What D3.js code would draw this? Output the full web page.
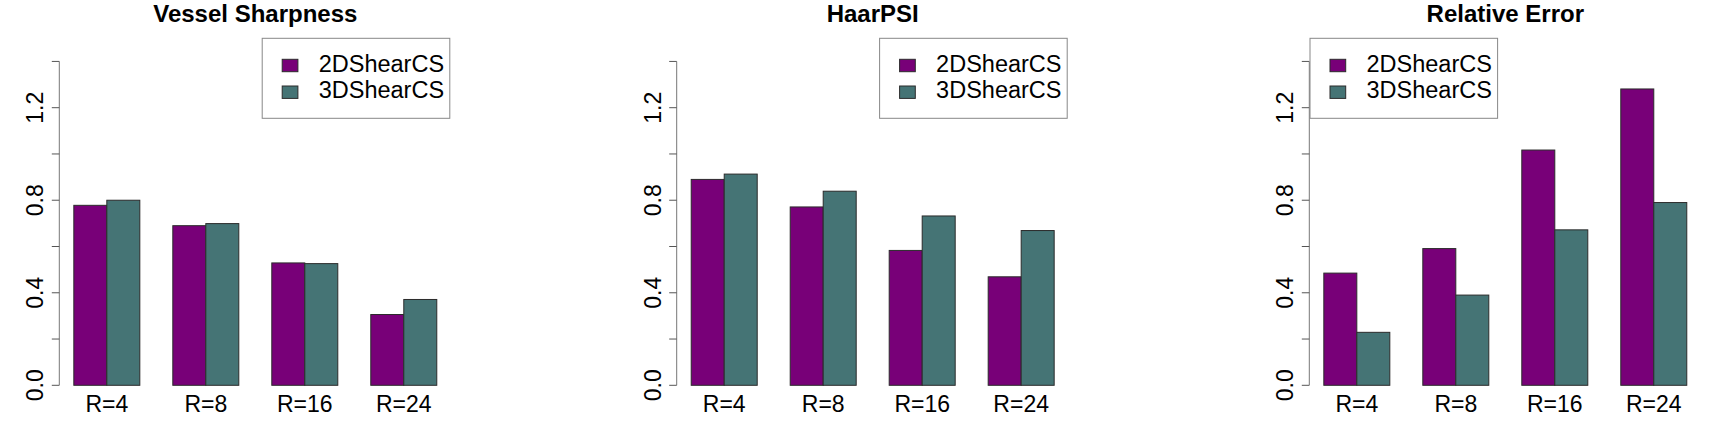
<!DOCTYPE html>
<html>
<head>
<meta charset="utf-8">
<script src="https://cdn.jsdelivr.net/npm/d3@7"></script>
<style>
  body { margin: 0; background: #fff; }
  svg text { font-family: "Liberation Sans", Arial, sans-serif; fill: #000; }
</style>
</head>
<body>
<div id="result"></div>
<script>
/* data */
var categories = ["R=4", "R=8", "R=16", "R=24"];
var seriesNames = ["2DShearCS", "3DShearCS"];
var titles = ["Vessel Sharpness", "HaarPSI", "Relative Error"];

var sharp2D = [0.778, 0.690, 0.529, 0.306];
var sharp3D = [0.800, 0.699, 0.526, 0.371];
var haar2D = [0.890, 0.771, 0.583, 0.469];
var haar3D = [0.913, 0.839, 0.732, 0.669];
var relerr2D = [0.485, 0.591, 1.017, 1.281];
var relerr3D = [0.229, 0.390, 0.672, 0.790];

var yTicks = [0, 0.2, 0.4, 0.6, 0.8, 1.0, 1.2, 1.4];
var yTickLabels = [0, 0.4, 0.8, 1.2];

var colors = ["#780078", "#457475"];

/* layout */
var width = 1730, height = 448;
var panelLeft = [59.3, 676.7, 1309.3];   // x of the y axis in each panel
var plotW = 392;
var y0 = 385.3, yTop = 38.3;             // pixel for 0 and for 1.5
var legendPos = ["topright", "topright", "topleft"];

var svg = d3.select("#result").append("svg")
    .attr("width", width)
    .attr("height", height);

var y = d3.scaleLinear().domain([0, 1.5]).range([y0, yTop]);

var panels = [
    [sharp2D, sharp3D],
    [haar2D, haar3D],
    [relerr2D, relerr3D]
];

panels.forEach(function (series, p) {
    var left = panelLeft[p];
    var g = svg.append("g");

    // R barplot layout: space=c(0,1), 4% padding each side
    var x0 = d3.scaleBand().domain(categories)
        .range([left, left + plotW])
        .paddingInner(1 / 3)
        .paddingOuter(0.1467);
    var x1 = d3.scaleBand().domain(seriesNames).range([0, x0.bandwidth()]);

    var rows = [];
    categories.forEach(function (c, i) {
        seriesNames.forEach(function (s, j) {
            rows.push({cat: c, ser: s, j: j, v: series[j][i]});
        });
    });

    g.selectAll("rect.bar").data(rows).enter().append("rect")
        .attr("class", "bar")
        .attr("x", function (d) { return x0(d.cat) + x1(d.ser); })
        .attr("y", function (d) { return y(d.v); })
        .attr("width", x1.bandwidth())
        .attr("height", function (d) { return y(0) - y(d.v); })
        .attr("fill", function (d) { return colors[d.j]; })
        .attr("stroke", "#2b2b2b")
        .attr("stroke-width", 1);

    // y axis
    var ax = g.append("g");
    ax.append("line")
        .attr("x1", left).attr("x2", left)
        .attr("y1", y(0)).attr("y2", y(1.4))
        .attr("stroke", "#777").attr("stroke-width", 1);
    ax.selectAll("line.tick").data(yTicks).enter().append("line")
        .attr("class", "tick")
        .attr("x1", left - 7.5).attr("x2", left)
        .attr("y1", function (d) { return y(d); })
        .attr("y2", function (d) { return y(d); })
        .attr("stroke", "#555").attr("stroke-width", 1);
    ax.selectAll("text").data(yTickLabels).enter().append("text")
        .attr("transform", function (d) {
            return "translate(" + (left - 16) + "," + y(d) + ") rotate(-90)";
        })
        .attr("text-anchor", "middle")
        .style("font-size", "23px")
        .text(function (d) { return d3.format(".1f")(d); });

    // category labels
    g.selectAll("text.cat").data(categories).enter().append("text")
        .attr("class", "cat")
        .attr("x", function (d) { return x0(d) + x0.bandwidth() / 2; })
        .attr("y", 411.7)
        .attr("text-anchor", "middle")
        .style("font-size", "23px")
        .text(function (d) { return d; });

    // title
    g.append("text")
        .attr("x", left + plotW / 2)
        .attr("y", 22)
        .attr("text-anchor", "middle")
        .style("font-size", "24px")
        .style("font-weight", "bold")
        .text(titles[p]);

    // legend
    var lw = 187.6, lh = 80;
    var lx = legendPos[p] === "topright" ? left + plotW - 1.5 - lw : left + 0.7;
    var lg = g.append("g").attr("transform", "translate(" + lx + "," + yTop + ")");
    lg.append("rect")
        .attr("x", 0).attr("y", 0)
        .attr("width", lw).attr("height", lh)
        .attr("fill", "#fff")
        .attr("stroke", "#888").attr("stroke-width", 1);
    seriesNames.forEach(function (s, j) {
        lg.append("rect")
            .attr("x", 20).attr("y", 21 + j * 26.7)
            .attr("width", 15.7).attr("height", 12.4)
            .attr("fill", colors[j])
            .attr("stroke", "#2b2b2b").attr("stroke-width", 1);
        lg.append("text")
            .attr("x", 56.5).attr("y", 33.4 + j * 26.7)
            .style("font-size", "23.5px")
            .text(s);
    });
});
</script>
</body>
</html>
